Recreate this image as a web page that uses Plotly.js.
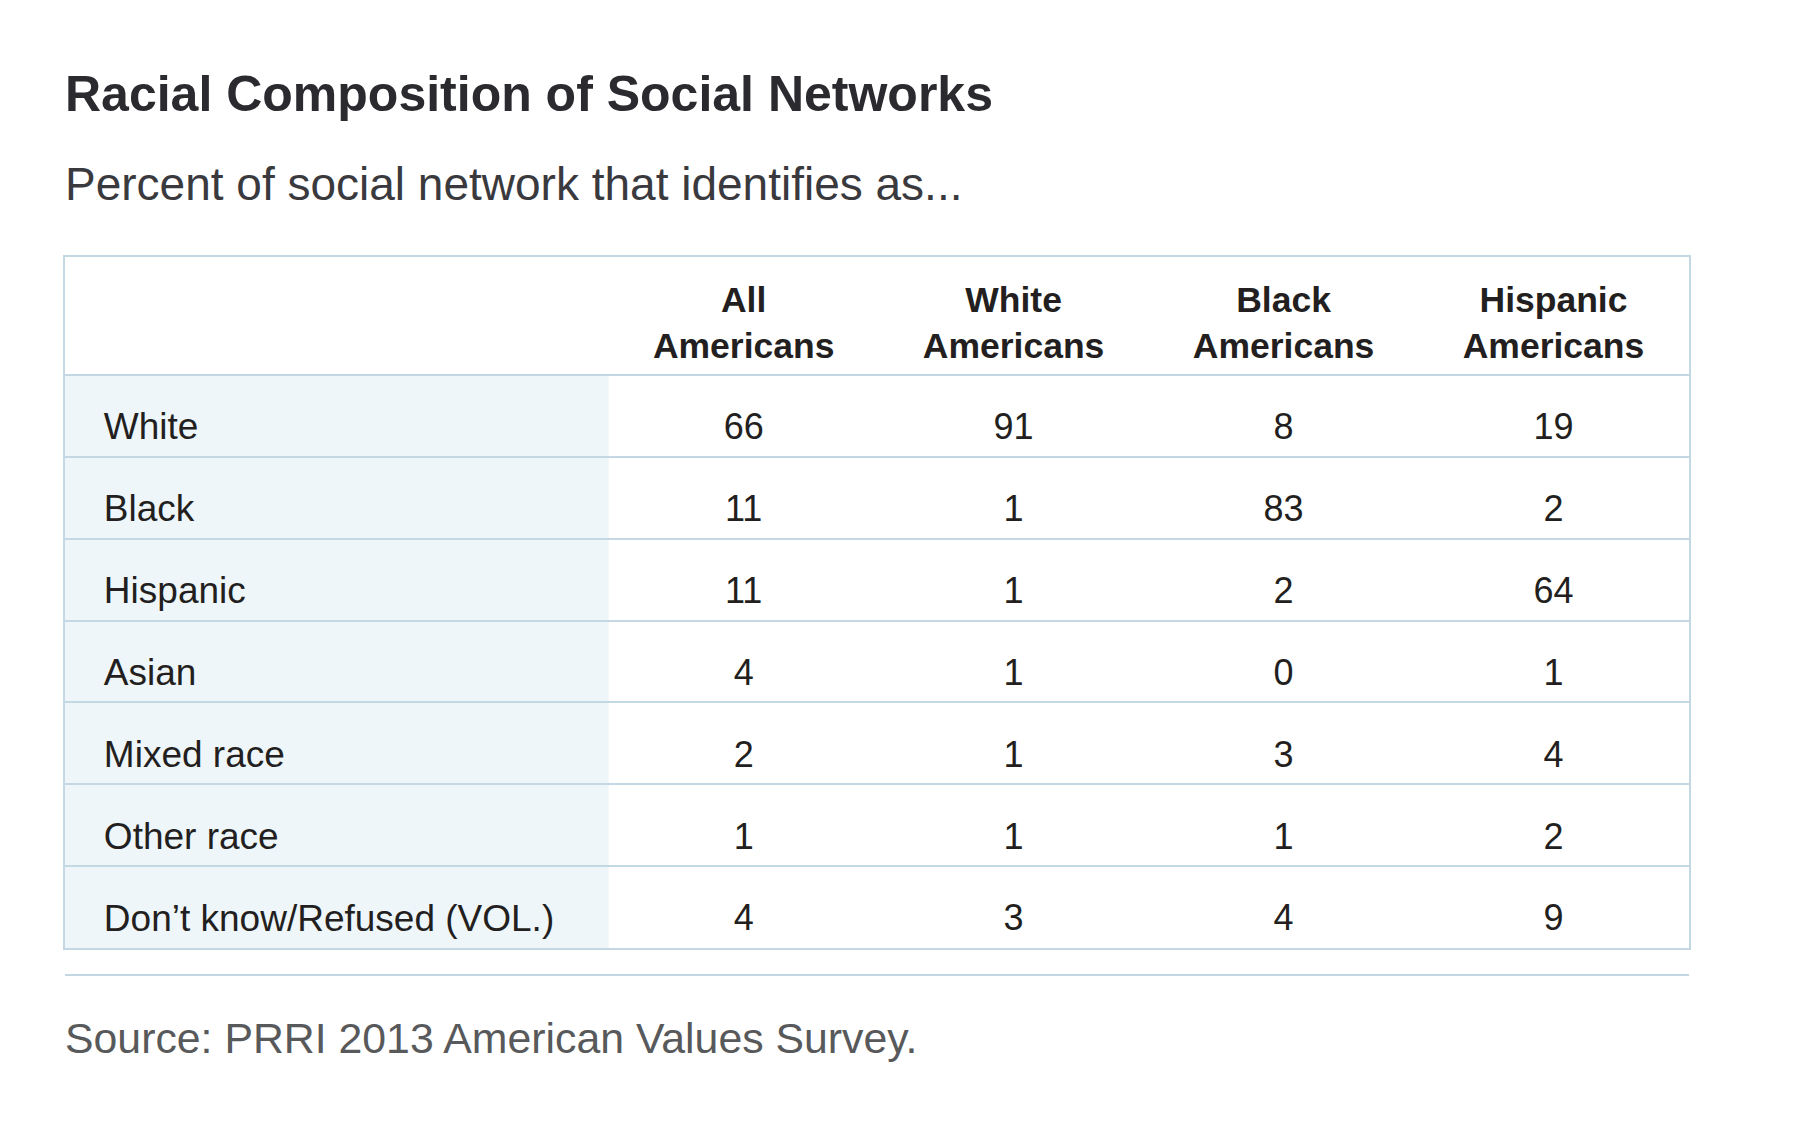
<!DOCTYPE html>
<html>
<head>
<meta charset="utf-8">
<script src="https://cdn.plot.ly/plotly-3.0.1.min.js"></script>
<style>html,body{margin:0;padding:0;background:#fff;}#chart{width:1816px;height:1135px;}</style>
</head>
<body>
<div id="chart"></div>
<script>
// ---- data ----
var rowLabels = ["White", "Black", "Hispanic", "Asian", "Mixed race", "Other race", "Don\u2019t know/Refused (VOL.)"];
var columnHeaders = ["All Americans", "White Americans", "Black Americans", "Hispanic Americans"];
var allAmericans = [66, 11, 11, 4, 2, 1, 4];
var whiteAmericans = [91, 1, 1, 1, 1, 1, 3];
var blackAmericans = [8, 83, 2, 0, 3, 1, 4];
var hispanicAmericans = [19, 2, 64, 1, 4, 2, 9];
var columnValues = [allAmericans, whiteAmericans, blackAmericans, hispanicAmericans];

var titleText = "Racial Composition of Social Networks";
var subtitleText = "Percent of social network that identifies as...";
var sourceText = "Source: PRRI 2013 American Values Survey.";

// ---- style ----
var FONT = "'Liberation Sans', Arial, Helvetica, sans-serif";
var TEXT = "#231f20";
var LINE = "#c4d8e3";
var SHADE = "#eef6fa";
var headerRows = 1.44;   // header height in row units
var labelX = -2.37;
var textOffset = 0.675;

var nRows = rowLabels.length;
var traces = [];

// row labels
traces.push({
  type: "scatter", mode: "text", hoverinfo: "skip", showlegend: false,
  x: rowLabels.map(function () { return labelX; }),
  y: rowLabels.map(function (_, i) { return i + textOffset; }),
  text: rowLabels, textposition: "middle right",
  textfont: {family: FONT, size: 37, color: TEXT}
});

// values per column
columnValues.forEach(function (vals, j) {
  traces.push({
    type: "scatter", mode: "text", hoverinfo: "skip", showlegend: false,
    x: vals.map(function () { return j; }),
    y: vals.map(function (_, i) { return i + textOffset; }),
    text: vals.map(String), textposition: "middle center",
    textfont: {family: FONT, size: 36, color: TEXT}
  });
});

// column headers
traces.push({
  type: "scatter", mode: "text", hoverinfo: "skip", showlegend: false,
  x: columnHeaders.map(function (_, j) { return j; }),
  y: columnHeaders.map(function () { return -0.6; }),
  text: columnHeaders.map(function (h) { return h.replace(" ", "<br>"); }),
  textposition: "middle center",
  textfont: {family: FONT, size: 35.5, color: TEXT, weight: "bold"}
});

var gridVals = [];
for (var k = 0; k < nRows; k++) gridVals.push(k);

var layout = {
  width: 1816, height: 1135,
  paper_bgcolor: "#ffffff", plot_bgcolor: "#ffffff",
  margin: {l: 65, r: 127, t: 257, b: 187, pad: 0},
  showlegend: false,
  xaxis: {
    range: [-2.514, 3.502], showgrid: false, zeroline: false, showticklabels: false,
    ticks: "", showline: true, mirror: true, linecolor: LINE, linewidth: 2, fixedrange: true
  },
  yaxis: {
    range: [nRows, -headerRows], showgrid: true, gridcolor: LINE, gridwidth: 2,
    tickmode: "array", tickvals: gridVals, showticklabels: false, ticks: "",
    zeroline: false, showline: true, mirror: true, linecolor: LINE, linewidth: 2, fixedrange: true
  },
  shapes: [
    {type: "rect", xref: "x", yref: "y", x0: -2.514, x1: -0.5, y0: 0, y1: nRows,
     fillcolor: SHADE, line: {width: 0}, layer: "below"},
    {type: "line", xref: "paper", yref: "paper", x0: 0, x1: 1, y0: -0.039, y1: -0.039,
     line: {color: LINE, width: 2}}
  ],
  annotations: [
    {text: titleText, xref: "paper", yref: "paper", x: -0.001, y: 1.236, xanchor: "left", yanchor: "middle",
     showarrow: false, font: {family: FONT, size: 50, color: "#2b2b2f", weight: "bold"}},
    {text: subtitleText, xref: "paper", yref: "paper", x: -0.001, y: 1.105, xanchor: "left", yanchor: "middle",
     showarrow: false, font: {family: FONT, size: 46, color: "#3a3a3e"}},
    {text: sourceText, xref: "paper", yref: "paper", x: -0.001, y: -0.13, xanchor: "left", yanchor: "middle",
     showarrow: false, font: {family: FONT, size: 42.8, color: "#58595b"}}
  ]
};

Plotly.newPlot("chart", traces, layout, {displayModeBar: false, staticPlot: true});
</script>
</body>
</html>
